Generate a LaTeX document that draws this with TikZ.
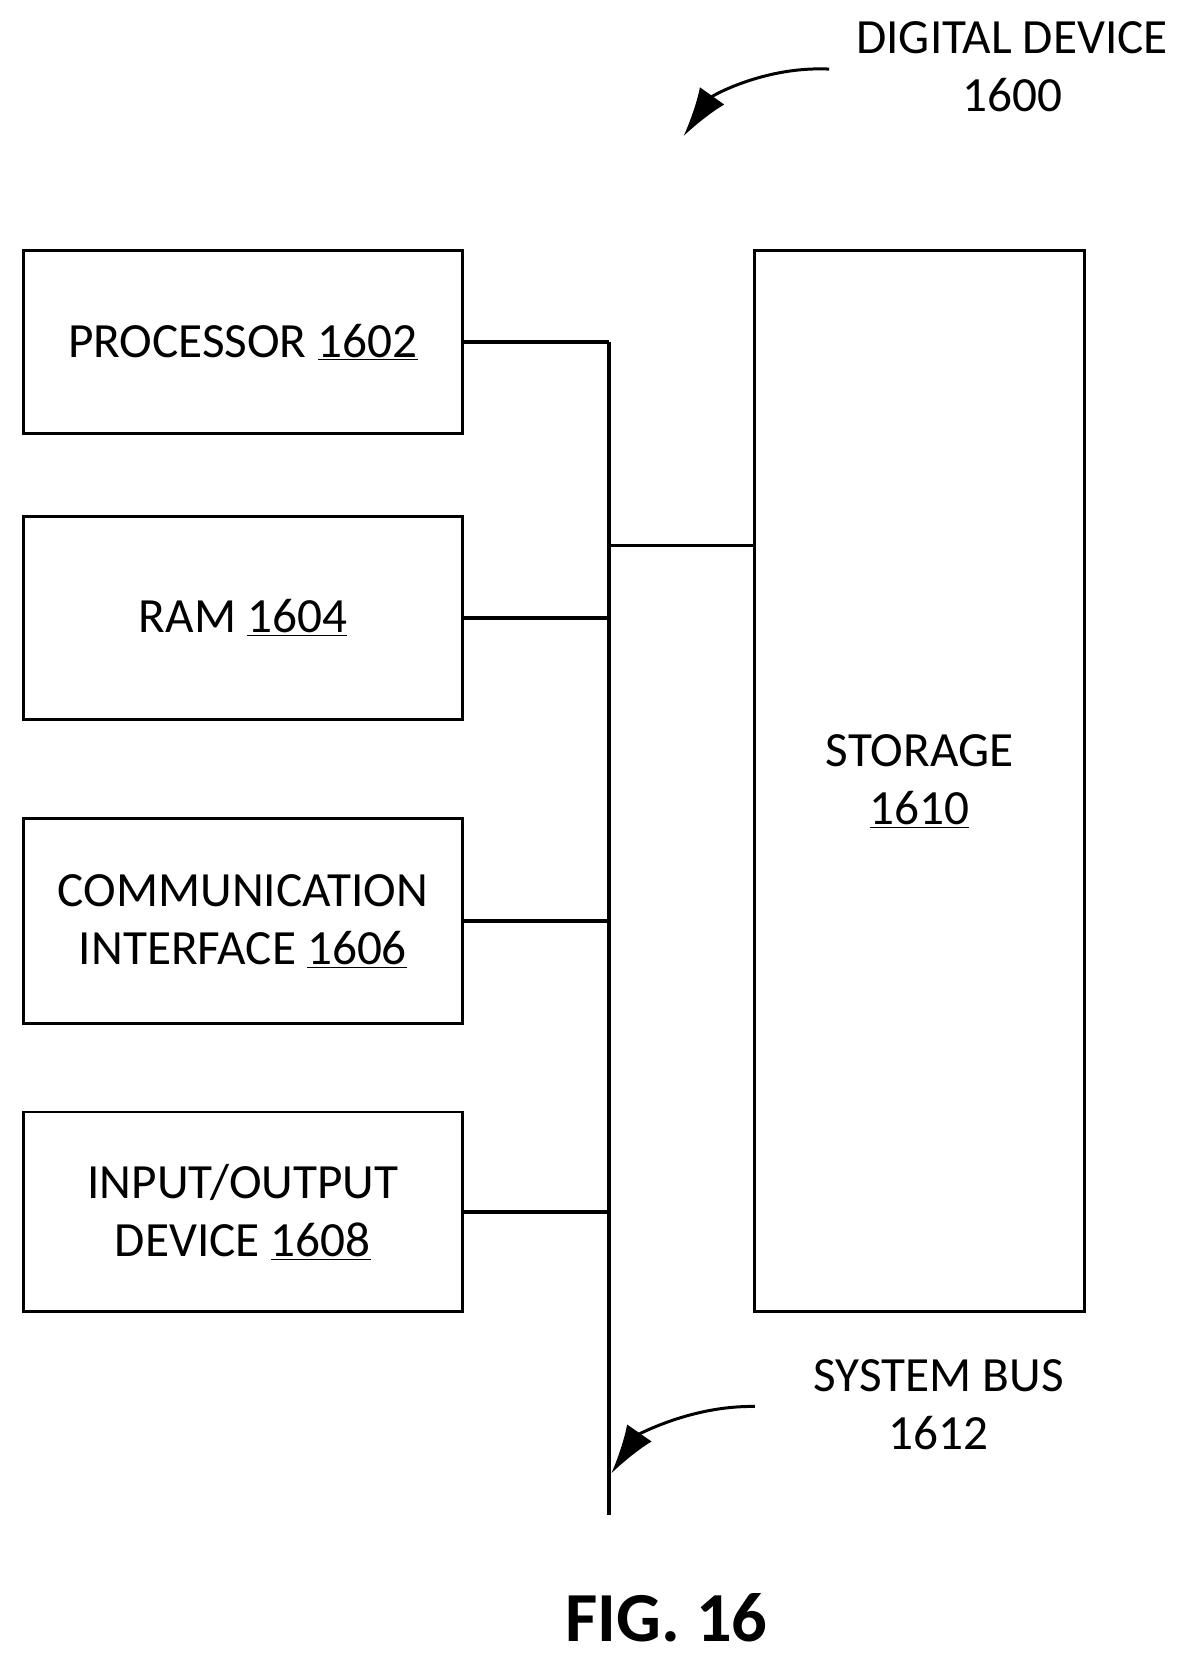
\documentclass[tikz,border=0pt]{standalone}
\usepackage{fontspec}
\setmainfont{Carlito}
\usetikzlibrary{arrows.meta}
\newcommand{\pxu}{0.02126cm}
\tikzset{
  blk/.style={draw, line width=1.7pt, inner sep=0pt},
  lbl/.style={font=\fontsize{28}{33}\selectfont, align=center},
  bus/.style={line width=2.1pt},
  callout/.style={line width=1.7pt, -{Latex[length=28pt,width=17pt]}}
}
\begin{document}
\begin{tikzpicture}[x=\pxu,y=-\pxu]
  \useasboundingbox (0,0) rectangle (1110,1561.5);

  \node[blk, minimum width=413*\pxu, minimum height=172*\pxu] (proc) at (228.5,322) {};
  \node[blk, minimum width=413*\pxu, minimum height=191*\pxu] (ram) at (228.5,581.5) {};
  \node[blk, minimum width=413*\pxu, minimum height=193*\pxu] (comm) at (228.5,866.5) {};
  \node[blk, minimum width=413*\pxu, minimum height=188*\pxu] (io) at (228.5,1140) {};
  \node[blk, minimum width=310*\pxu, minimum height=998*\pxu] (stor) at (865,735) {};

  \node[lbl] (proct) at (proc) {PROCESSOR \underline{1602}};
  \node[lbl] (ramt) at (ram) {RAM \underline{1604}};
  \node[lbl] (commt) at (comm) {COMMUNICATION\\INTERFACE \underline{1606}};
  \node[lbl] (iot) at (io) {INPUT/OUTPUT\\DEVICE \underline{1608}};
  \node[lbl] (stort) at (865,735) {STORAGE\\\underline{1610}};

  % system bus
  \coordinate (bt) at (573,322);
  \coordinate (bb) at (573,1425);
  \draw[bus] (bt) -- (bb);
  \draw[bus] (proc.east) -- (bt);
  \draw[bus] (ram.east) -- (ram.east -| bt);
  \draw[bus] (comm.east) -- (comm.east -| bt);
  \draw[bus] (io.east) -- (io.east -| bt);
  \draw[bus] (573,513) -- (stor.west |- 0,513);

  % callouts
  \node[lbl] (dev) at (952,63) {DIGITAL DEVICE\\1600};
  \draw[callout] (780,65) .. controls (720,62) and (670,90) .. (643,128);
  \node[lbl] (sysbus) at (883,1321) {SYSTEM BUS\\1612};
  \draw[callout] (710,1323) .. controls (650,1322) and (600,1350) .. (575,1386);

  \node[font=\fontsize{40}{44}\selectfont\bfseries] (fig) at (627,1522) {FIG. 16};
\end{tikzpicture}
\end{document}
